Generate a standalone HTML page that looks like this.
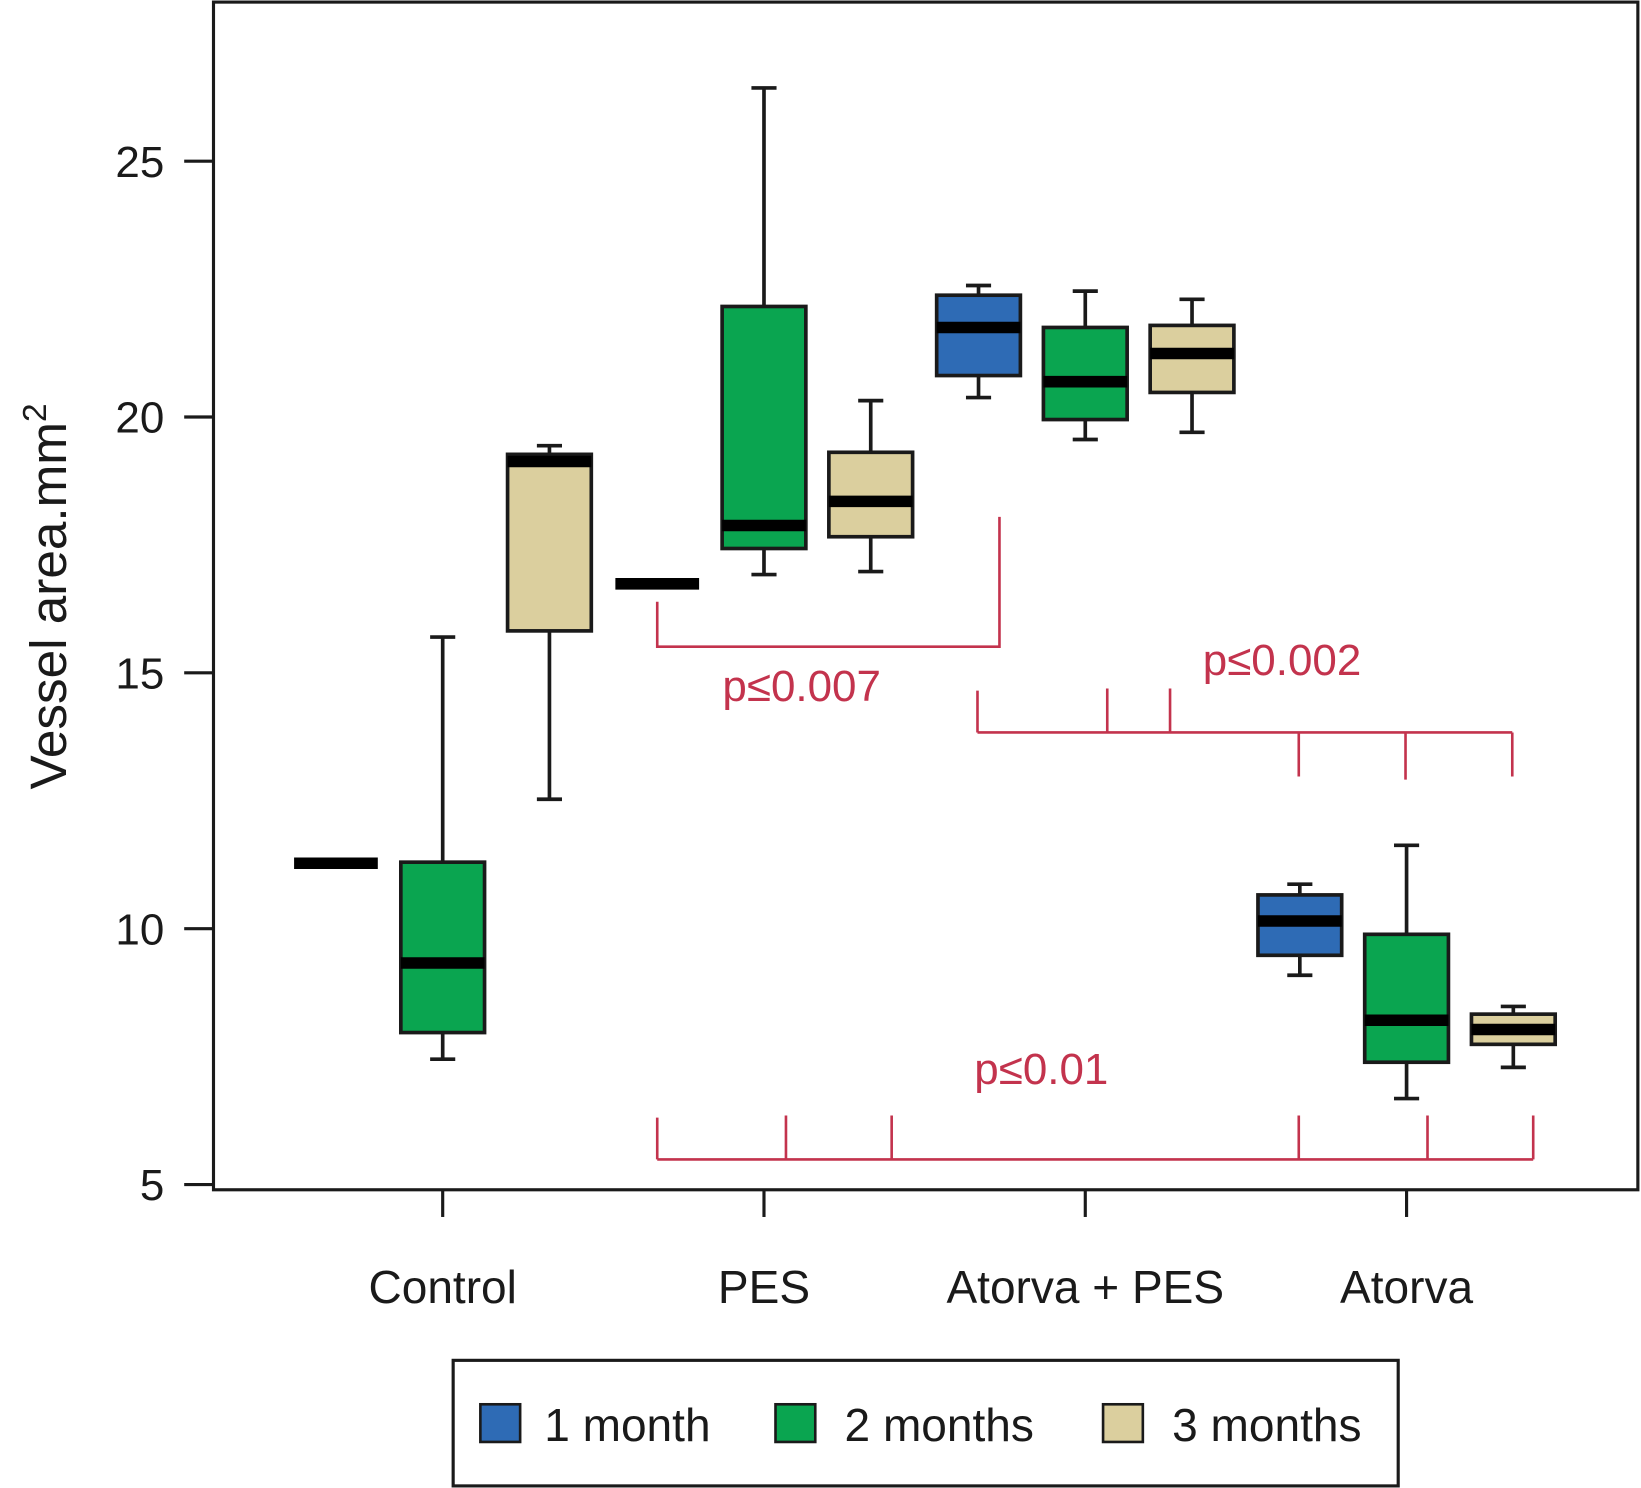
<!DOCTYPE html>
<html><head><meta charset="utf-8"><style>
html,body{margin:0;padding:0;background:#fff;}
svg{display:block;font-family:"Liberation Sans",Arial,sans-serif;}
</style></head><body>
<svg id="chart" width="1641" height="1488" viewBox="0 0 1568 1422" preserveAspectRatio="none" xmlns="http://www.w3.org/2000/svg">
<rect x="204" y="2" width="1361" height="1135" fill="none" stroke="#1a1a1a" stroke-width="3"/>
<g id="axes"></g>
<g id="boxes"></g>
<g id="annot" stroke="#c3334d" stroke-width="2.5" fill="none">
<path d="M628,575 V618 H955 V494"/>
<path d="M934,700 H1445 M934,700 V660 M1058,700 V658 M1118,700 V658 M1241,700 V742 M1343,700 V745 M1445,700 V742"/>
<path d="M628,1108 H1465 M628,1108 V1068 M751,1108 V1066 M852,1108 V1066 M1241,1108 V1066 M1364,1108 V1066 M1465,1108 V1066"/>
</g>
<text x="766" y="670" font-size="42" fill="#c3334d" text-anchor="middle">p≤0.007</text>
<text x="1225" y="645" font-size="42" fill="#c3334d" text-anchor="middle">p≤0.002</text>
<text x="995" y="1036" font-size="42" fill="#c3334d" text-anchor="middle">p≤0.01</text>
<text transform="translate(63,570) rotate(-90)" font-size="49" fill="#1a1a1a" text-anchor="middle">Vessel area.mm<tspan font-size="32" dy="-19">2</tspan></text>
<g>
<rect x="433" y="1300" width="903" height="120" fill="none" stroke="#1a1a1a" stroke-width="3"/>
<rect x="459" y="1342" width="38" height="36" fill="#2e6bb5" stroke="#1a1a1a" stroke-width="2.5"/>
<text x="520" y="1377" font-size="44" fill="#1a1a1a">1 month</text>
<rect x="741" y="1342" width="38" height="36" fill="#0aa550" stroke="#1a1a1a" stroke-width="2.5"/>
<text x="807" y="1377" font-size="44" fill="#1a1a1a">2 months</text>
<rect x="1054" y="1342" width="38" height="36" fill="#dbcf9e" stroke="#1a1a1a" stroke-width="2.5"/>
<text x="1120" y="1377" font-size="44" fill="#1a1a1a">3 months</text>
</g>
</svg>
<script>
const categories = ["Control", "PES", "Atorva + PES", "Atorva"];
const seriesNames = ["1 month", "2 months", "3 months"];
const yTicks = [5, 10, 15, 20, 25];
// [low whisker, Q1, median, Q3, high whisker] per category, per series
const oneMonth = [[11.28,11.28,11.28,11.28,11.28],[16.74,16.74,16.74,16.74,16.74],[20.38,20.81,21.75,22.38,22.57],[9.09,9.48,10.15,10.66,10.87]];
const twoMonths = [[7.45,7.97,9.33,11.3,15.7],[16.92,17.43,17.88,22.16,26.43],[19.56,19.95,20.69,21.75,22.46],[6.68,7.39,8.21,9.89,11.63]];
const threeMonths = [[12.53,15.82,19.13,19.27,19.44],[16.98,17.66,18.35,19.31,20.32],[19.70,20.48,21.24,21.79,22.3],[7.29,7.74,8.03,8.33,8.48]];

const NS = "http://www.w3.org/2000/svg";
const yScale = v => 154 + (25 - v) * 48.9;
const xCat = i => 423 + i * 307;
const offsets = [-102, 0, 102];
const colors = ["#2e6bb5", "#0aa550", "#dbcf9e"];
function mk(tag, attrs, parent){const e=document.createElementNS(NS,tag);for(const k in attrs)e.setAttribute(k,attrs[k]);parent.appendChild(e);return e;}
const axes = document.getElementById("axes");
yTicks.forEach(t=>{
  const l=mk("line",{x1:176,x2:204,y1:yScale(t),y2:yScale(t),stroke:"#1a1a1a","stroke-width":3},axes);
  
  
  const tx=mk("text",{x:157,y:yScale(t)+15,"font-size":42,"text-anchor":"end",fill:"#1a1a1a"},axes);
  tx.textContent=t;
  
  
});
categories.forEach((c,i)=>{
  const l=mk("line",{x1:xCat(i),x2:xCat(i),y1:1137,y2:1163,stroke:"#1a1a1a","stroke-width":3},axes);
  
  
  const tx=mk("text",{x:xCat(i),y:1245,"font-size":44,"text-anchor":"middle",fill:"#1a1a1a"},axes);
  tx.textContent=c;
  
  
});
const boxes=document.getElementById("boxes");
[oneMonth,twoMonths,threeMonths].forEach((series,s)=>{
  series.forEach((d,i)=>{
    const cx=xCat(i)+offsets[s], w=80;
    const g=mk("g",{},boxes);
    
    
    const [lo,q1,med,q3,hi]=d;
    if(hi>q3){mk("line",{x1:cx,x2:cx,y1:yScale(hi),y2:yScale(q3),stroke:"#1a1a1a","stroke-width":3.5},g);
      mk("line",{x1:cx-12,x2:cx+12,y1:yScale(hi),y2:yScale(hi),stroke:"#1a1a1a","stroke-width":3.5},g);}
    if(lo<q1){mk("line",{x1:cx,x2:cx,y1:yScale(q1),y2:yScale(lo),stroke:"#1a1a1a","stroke-width":3.5},g);
      mk("line",{x1:cx-12,x2:cx+12,y1:yScale(lo),y2:yScale(lo),stroke:"#1a1a1a","stroke-width":3.5},g);}
    if(q3>q1) mk("rect",{x:cx-w/2,y:yScale(q3),width:w,height:yScale(q1)-yScale(q3),fill:colors[s],stroke:"#1a1a1a","stroke-width":3.5},g);
    mk("line",{x1:cx-w/2,x2:cx+w/2,y1:yScale(med),y2:yScale(med),stroke:"#000","stroke-width":11},g);
  });
});
</script>
</body></html>
